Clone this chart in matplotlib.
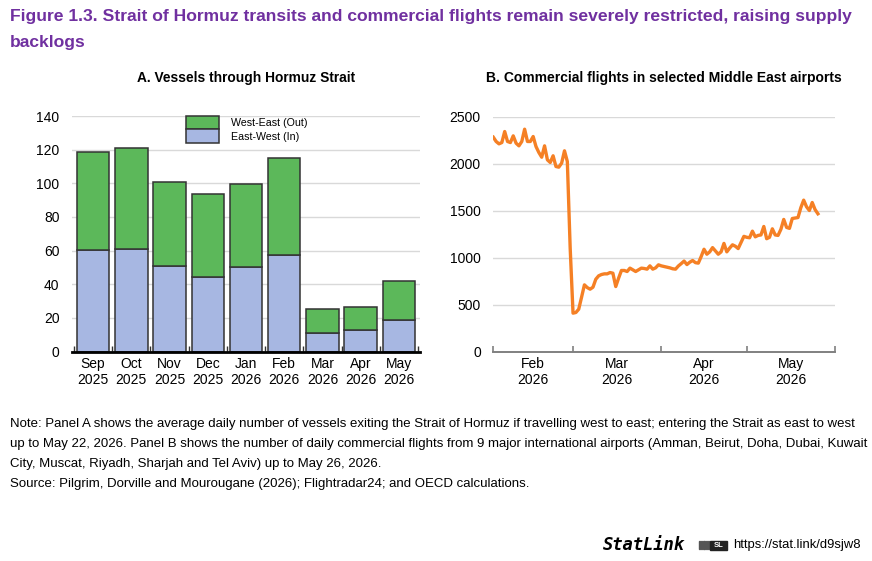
import numpy as np
import pandas as pd
import matplotlib
matplotlib.use("Agg")
import matplotlib.pyplot as plt
from matplotlib.patches import Patch, Rectangle

# Panel A: vessels through the Strait (average daily)
months = ["Sep\n2025", "Oct\n2025", "Nov\n2025", "Dec\n2025", "Jan\n2026",
          "Feb\n2026", "Mar\n2026", "Apr\n2026", "May\n2026"]
east_west_in = [60.5, 61, 51, 44.5, 50, 57.5, 11, 13, 19]
west_east_out = [58, 60, 50, 49, 49.5, 57.5, 14, 13.5, 23]

# Panel B: daily commercial flights, Feb 1 - May 26 2026
flights_feb = [2280, 2234, 2209, 2223, 2340, 2234, 2223, 2294, 2216, 2188,
               2234, 2365, 2234, 2234, 2287, 2180, 2117, 2067, 2188, 2039,
               2011, 2082, 1968, 1961, 2004, 2135, 2021, 1100]
flights_mar = [408, 415, 450, 578, 709, 680, 663, 684, 769, 805,
               819, 826, 826, 840, 833, 691, 780, 862, 862, 851,
               887, 869, 851, 869, 887, 883, 876, 911, 876, 890, 922]
flights_apr = [911, 904, 897, 890, 880, 876, 910, 935, 962, 925,
               950, 968, 945, 940, 1010, 1088, 1035, 1060, 1105, 1070,
               1035, 1060, 1150, 1060, 1100, 1135, 1120, 1095, 1160, 1225]
flights_may = [1215, 1210, 1280, 1220, 1235, 1240, 1330, 1200, 1215, 1305,
               1240, 1235, 1300, 1405, 1320, 1310, 1415, 1420, 1425, 1530,
               1610, 1540, 1500, 1585, 1510, 1465]
flights = flights_feb + flights_mar + flights_apr + flights_may
dates = pd.date_range("2026-02-01", periods=len(flights), freq="D")

GREEN = "#5cb85a"
BLUE = "#a7b7e2"
ORANGE = "#f58025"
PURPLE = "#7030a0"
GRID = "#d9d9d9"

plt.rcParams["font.family"] = ["Liberation Sans", "DejaVu Sans"]

W, H = 872, 561
fig = plt.figure(figsize=(W / 100, H / 100), dpi=100)

def fx(px):
    return px / W

def fy(py):
    return 1 - py / H

fig.text(fx(10), fy(17), "Figure 1.3. Strait of Hormuz transits and commercial flights remain severely restricted, raising supply",
         fontsize=12.6, fontweight="bold", color=PURPLE, va="center")
fig.text(fx(10), fy(42), "backlogs",
         fontsize=12.6, fontweight="bold", color=PURPLE, va="center")

# ---- Panel A
axA = fig.add_axes([fx(72), fy(351.5), fx(420 - 72), (351.5 - 116) / H])
x = np.arange(len(months))
axA.bar(x, east_west_in, width=0.85, color=BLUE, edgecolor="#333333", linewidth=1.1, zorder=3)
axA.bar(x, west_east_out, width=0.85, bottom=east_west_in, color=GREEN,
        edgecolor="#333333", linewidth=1.1, zorder=3)
axA.set_xlim(-0.55, 8.55)
axA.set_ylim(0, 140)
axA.set_yticks(range(0, 141, 20))
axA.set_xticks(x)
axA.set_xticklabels(months, linespacing=1.2)
axA.set_xticks(np.arange(-0.5, 9, 1), minor=True)
axA.tick_params(axis="x", which="major", length=0, pad=4, labelsize=10)
axA.tick_params(axis="x", which="minor", length=4, width=1, direction="in", color="#333333")
axA.tick_params(axis="y", length=0, pad=9, labelsize=10)
axA.grid(axis="y", color=GRID, linewidth=1, zorder=0)
for s in ["left", "right", "top"]:
    axA.spines[s].set_visible(False)
axA.spines["bottom"].set_linewidth(2)
axA.spines["bottom"].set_color("black")
axA.spines["bottom"].set_zorder(4)

handles = [Patch(facecolor=GREEN, edgecolor="#333333", linewidth=1.1, label="West-East (Out)"),
           Patch(facecolor=BLUE, edgecolor="#333333", linewidth=1.1, label="East-West (In)")]
fig.legend(handles=handles, loc="upper left", bbox_to_anchor=(fx(186), fy(116)),
           frameon=False, fontsize=7.7, handlelength=3.1, handleheight=1.55,
           labelspacing=0, handletextpad=1.1, borderpad=0, borderaxespad=0)

fig.text(fx(246), fy(78), "A. Vessels through Hormuz Strait", fontsize=9.9,
         fontweight="bold", ha="center", va="center")

# ---- Panel B
axB = fig.add_axes([fx(493.3), fy(351.5), fx(835 - 493.3), (351.5 - 116.5) / H])
axB.plot(dates, flights, color=ORANGE, linewidth=2.4, zorder=3)
axB.set_xlim(pd.Timestamp("2026-02-01"), pd.Timestamp("2026-06-01"))
axB.set_ylim(0, 2500)
axB.set_yticks(range(0, 2501, 500))
month_starts = pd.date_range("2026-02-01", "2026-06-01", freq="MS")
mids = [a + (b - a) / 2 for a, b in zip(month_starts[:-1], month_starts[1:])]
axB.set_xticks(month_starts)
axB.set_xticklabels([])
axB.set_xticks(mids, minor=True)
axB.set_xticklabels(["Feb\n2026", "Mar\n2026", "Apr\n2026", "May\n2026"], minor=True, linespacing=1.2)
axB.tick_params(axis="x", which="major", length=4, width=1.2, direction="in", color="#808080")
axB.tick_params(axis="x", which="minor", length=0, pad=4, labelsize=10)
axB.tick_params(axis="y", length=0, pad=9, labelsize=10)
axB.grid(axis="y", color=GRID, linewidth=1, zorder=0)
for s in ["left", "right", "top"]:
    axB.spines[s].set_visible(False)
axB.spines["bottom"].set_color("#808080")
axB.spines["bottom"].set_linewidth(1.4)

fig.text(fx(664), fy(78), "B. Commercial flights in selected Middle East airports", fontsize=10,
         fontweight="bold", ha="center", va="center")

# ---- notes
notes = [
    "Note: Panel A shows the average daily number of vessels exiting the Strait of Hormuz if travelling west to east; entering the Strait as east to west",
    "up to May 22, 2026. Panel B shows the number of daily commercial flights from 9 major international airports (Amman, Beirut, Doha, Dubai, Kuwait",
    "City, Muscat, Riyadh, Sharjah and Tel Aviv) up to May 26, 2026.",
    "Source: Pilgrim, Dorville and Mourougane (2026); Flightradar24; and OECD calculations.",
]
for i, line in enumerate(notes):
    fig.text(fx(10), fy(424 + i * 20), line, fontsize=9.55, va="center")

# ---- StatLink footer
fig.text(fx(603), fy(545), "StatLink", family="DejaVu Sans Mono", fontsize=12.3,
         fontstyle="italic", fontweight="bold", va="center")
for k in range(5):
    fig.patches.append(Rectangle((fx(699 + k * 2.2), fy(549)), fx(1.2), 8 / H,
                                 transform=fig.transFigure, color="#555555"))
fig.patches.append(Rectangle((fx(710), fy(550)), fx(17), 9 / H, transform=fig.transFigure,
                             color="#222222"))
fig.text(fx(718.5), fy(545.5), "SL", fontsize=5.5, color="white", fontweight="bold",
         ha="center", va="center")
fig.text(fx(733), fy(545), "https://stat.link/d9sjw8", fontsize=9.4, va="center")

fig.savefig("out.png", dpi=100)
